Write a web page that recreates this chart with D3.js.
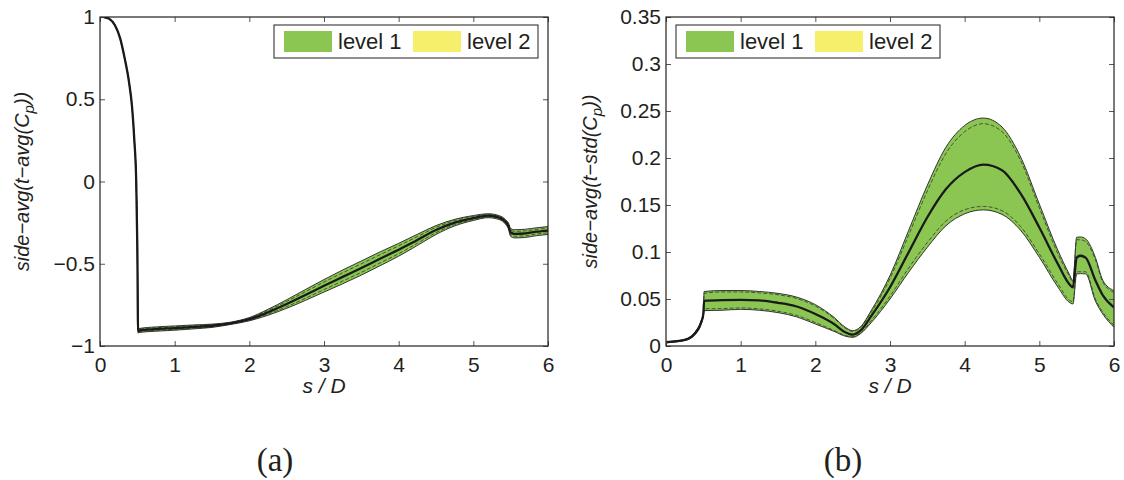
<html>
<head>
<meta charset="utf-8">
<style>
  body { margin: 0; background: #fff; }
  svg text { fill: #231f20; }
</style>
</head>
<body>
<script src="https://d3js.org/d3.v7.min.js"></script>
<svg id="chart" width="1124" height="480"></svg>
<script>
// ---- panel (a): side-avg(t-avg(Cp)) ----
var sA = [0.05,0.12,0.2,0.27,0.33,0.39,0.43,0.46,0.485,0.5,0.51,0.52,0.75,1,1.25,1.5,1.75,2,2.25,2.5,2.75,3,3.25,3.5,3.75,4,4.25,4.5,4.75,5,5.2,5.35,5.43,5.47,5.5,5.55,5.7,5.85,6];
var meanA = [1,0.99,0.95,0.87,0.75,0.6,0.45,0.25,0,-0.4,-0.91,-0.906,-0.897,-0.891,-0.884,-0.877,-0.862,-0.837,-0.795,-0.745,-0.69,-0.634,-0.58,-0.526,-0.47,-0.415,-0.355,-0.295,-0.25,-0.222,-0.208,-0.22,-0.245,-0.27,-0.31,-0.318,-0.315,-0.305,-0.298];
var upA = [1.002,0.993,0.953,0.873,0.754,0.604,0.454,0.254,0.004,-0.396,-0.898,-0.894,-0.884,-0.878,-0.872,-0.867,-0.855,-0.827,-0.777,-0.719,-0.657,-0.596,-0.538,-0.483,-0.428,-0.376,-0.321,-0.268,-0.23,-0.207,-0.196,-0.208,-0.231,-0.252,-0.286,-0.293,-0.29,-0.281,-0.274];
var loA = [0.997,0.987,0.947,0.867,0.746,0.596,0.446,0.246,-0.004,-0.404,-0.922,-0.918,-0.91,-0.904,-0.896,-0.887,-0.869,-0.847,-0.813,-0.771,-0.723,-0.672,-0.622,-0.569,-0.512,-0.454,-0.389,-0.322,-0.27,-0.237,-0.22,-0.232,-0.259,-0.288,-0.334,-0.343,-0.34,-0.329,-0.322];
var upInA = [1.001,0.992,0.952,0.872,0.752,0.602,0.452,0.252,0.002,-0.398,-0.903,-0.899,-0.889,-0.883,-0.877,-0.871,-0.858,-0.831,-0.784,-0.729,-0.67,-0.611,-0.555,-0.5,-0.445,-0.391,-0.335,-0.279,-0.238,-0.213,-0.201,-0.213,-0.237,-0.259,-0.296,-0.303,-0.3,-0.291,-0.284];
var loInA = [0.998,0.988,0.948,0.868,0.748,0.598,0.448,0.248,-0.002,-0.402,-0.917,-0.913,-0.905,-0.899,-0.891,-0.883,-0.866,-0.843,-0.806,-0.761,-0.71,-0.657,-0.605,-0.552,-0.495,-0.439,-0.375,-0.311,-0.262,-0.231,-0.215,-0.227,-0.253,-0.281,-0.324,-0.333,-0.33,-0.319,-0.312];
var yTicksA = [-1,-0.5,0,0.5,1];

// ---- panel (b): side-avg(t-std(Cp)) ----
var sB = [0,0.25,0.4,0.47,0.5,0.51,0.75,1,1.25,1.5,1.75,2,2.25,2.4,2.5,2.6,2.75,3,3.25,3.5,3.75,4,4.25,4.5,4.75,5,5.25,5.4,5.45,5.5,5.55,5.62,5.75,5.85,6];
var meanB = [0.004,0.0064,0.0146,0.025,0.034,0.048,0.0488,0.049,0.0485,0.046,0.042,0.034,0.0234,0.0146,0.012,0.016,0.032,0.0625,0.0998,0.137,0.167,0.185,0.193,0.187,0.162,0.126,0.087,0.066,0.0625,0.094,0.096,0.094,0.07,0.054,0.041];
var upB = [0.0045,0.007,0.016,0.027,0.036,0.058,0.059,0.059,0.058,0.056,0.052,0.044,0.0305,0.02,0.0163,0.02,0.038,0.075,0.123,0.171,0.2116,0.2346,0.2425,0.233,0.201,0.151,0.1015,0.0767,0.0696,0.1157,0.116,0.114,0.0944,0.07,0.059];
var loB = [0.0035,0.0058,0.013,0.023,0.032,0.0376,0.038,0.039,0.038,0.0355,0.031,0.0234,0.0156,0.0105,0.0092,0.0128,0.025,0.05,0.0785,0.105,0.128,0.1406,0.1448,0.14,0.123,0.0944,0.0625,0.0465,0.0447,0.0767,0.077,0.0767,0.048,0.034,0.02];
var upInB = [0.0043,0.0068,0.0155,0.026,0.035,0.056,0.0575,0.0575,0.0565,0.0545,0.0505,0.0425,0.0295,0.019,0.0155,0.0192,0.036,0.072,0.118,0.165,0.205,0.228,0.2365,0.228,0.197,0.147,0.098,0.0745,0.068,0.113,0.113,0.111,0.092,0.068,0.057];
var loInB = [0.0037,0.006,0.0136,0.024,0.033,0.0395,0.0398,0.0405,0.0395,0.037,0.0325,0.025,0.0165,0.0112,0.0098,0.0135,0.027,0.053,0.083,0.11,0.133,0.145,0.1485,0.144,0.127,0.098,0.066,0.049,0.047,0.079,0.079,0.079,0.05,0.036,0.022];
var yTicksB = [0,0.05,0.1,0.15,0.2,0.25,0.3,0.35];

var xTicks = [0,1,2,3,4,5,6];
var legendNames = ["level 1", "level 2"];
var legendColors = ["#8bc653", "#f5ef6b"];

var svg = d3.select("#chart");
var fontTxt = "'Liberation Sans', Arial, sans-serif";

function panel(opt) {
  var left = opt.left, top = 17, w = 448, h = 329;
  var g = svg.append("g").attr("transform", "translate(" + left + "," + top + ")");

  var x = d3.scaleLinear().domain([0, 6]).range([0, w]);
  var y = d3.scaleLinear().domain(opt.yDomain).range([h, 0]);

  g.append("clipPath").attr("id", "clip" + opt.id)
    .append("rect").attr("width", w).attr("height", h);

  var pts = opt.s.map(function(s, i) {
    return { s: s, m: opt.mean[i], up: opt.up[i], lo: opt.lo[i], ui: opt.upIn[i], li: opt.loIn[i] };
  });

  var plot = g.append("g").attr("clip-path", "url(#clip" + opt.id + ")");

  var area = d3.area().curve(d3.curveMonotoneX)
    .x(function(d) { return x(d.s); })
    .y0(function(d) { return y(d.lo); })
    .y1(function(d) { return y(d.up); });

  plot.append("path").datum(pts).attr("d", area)
    .attr("fill", legendColors[0]).attr("stroke", "none");

  function line(key) {
    return d3.line().curve(d3.curveMonotoneX)
      .x(function(d) { return x(d.s); })
      .y(function(d) { return y(d[key]); });
  }

  ["up", "lo"].forEach(function(k) {
    plot.append("path").datum(pts).attr("d", line(k))
      .attr("fill", "none").attr("stroke", "#222").attr("stroke-width", 0.9);
  });
  ["ui", "li"].forEach(function(k) {
    plot.append("path").datum(pts).attr("d", line(k))
      .attr("fill", "none").attr("stroke", "#333").attr("stroke-width", 0.8)
      .attr("stroke-dasharray", "4,2");
  });
  plot.append("path").datum(pts).attr("d", line("m"))
    .attr("fill", "none").attr("stroke", "#1a1a1a").attr("stroke-width", 2.3);

  // axes, ticks inside like matlab
  var fmt = d3.format("~g");
  var ax = [
    g.append("g").attr("transform", "translate(0," + h + ")")
      .call(d3.axisBottom(x).tickValues(xTicks).tickSizeInner(-5).tickSizeOuter(0).tickPadding(11).tickFormat(fmt)),
    g.append("g")
      .call(d3.axisTop(x).tickValues(xTicks).tickSizeInner(-5).tickSizeOuter(0).tickFormat("")),
    g.append("g")
      .call(d3.axisLeft(y).tickValues(opt.yTicks).tickSizeInner(-5).tickSizeOuter(0).tickPadding(5).tickFormat(fmt)),
    g.append("g").attr("transform", "translate(" + w + ",0)")
      .call(d3.axisRight(y).tickValues(opt.yTicks).tickSizeInner(-5).tickSizeOuter(0).tickFormat(""))
  ];
  ax.forEach(function(a) {
    a.select(".domain").remove();
    a.selectAll("line").attr("stroke", "#555");
    a.selectAll("text").style("font-family", fontTxt).style("font-size", "21px").attr("fill", "#231f20");
  });

  g.append("rect").attr("width", w).attr("height", h)
    .attr("fill", "none").attr("stroke", "#231f20").attr("stroke-width", 1.2);

  // axis labels
  g.append("text").attr("x", w / 2).attr("y", h + 47)
    .attr("text-anchor", "middle").style("font-family", fontTxt).style("font-size", "21px")
    .style("font-style", "italic").text("s / D");

  var yl = g.append("text").attr("transform", "translate(" + opt.yLabelX + "," + (h / 2) + ") rotate(-90)")
    .attr("text-anchor", "middle").style("font-family", fontTxt).style("font-size", "20px")
    .style("font-style", "italic");
  yl.append("tspan").text(opt.yLabel[0]);
  yl.append("tspan").attr("font-size", "15px").attr("baseline-shift", "-30%").text("p");
  yl.append("tspan").text("))");

  // legend
  var lg = g.append("g").attr("transform", "translate(" + opt.legendX + ",8)");
  lg.append("rect").attr("width", 264).attr("height", 33)
    .attr("fill", "#fff").attr("stroke", "#231f20").attr("stroke-width", 1);
  legendNames.forEach(function(name, i) {
    var it = lg.append("g").attr("transform", "translate(" + (10 + i * 129) + ",0)");
    it.append("rect").attr("y", 6).attr("width", 48).attr("height", 21).attr("fill", legendColors[i]);
    it.append("text").attr("x", 54).attr("y", 24).style("font-family", fontTxt).style("font-size", "22px").text(name);
  });

  // sub-caption
  svg.append("text").attr("x", opt.capX).attr("y", 471).attr("text-anchor", "middle")
    .style("font-family", "'Liberation Serif', 'DejaVu Serif', serif").style("font-size", "33px")
    .text(opt.caption);
}

panel({ id: "a", left: 100, s: sA, mean: meanA, up: upA, lo: loA, upIn: upInA, loIn: loInA,
  yDomain: [-1, 1], yTicks: yTicksA, yLabel: ["side\u2212avg(t\u2212avg(C"], yLabelX: -71,
  legendX: 174, capX: 275, caption: "(a)" });
panel({ id: "b", left: 666, s: sB, mean: meanB, up: upB, lo: loB, upIn: upInB, loIn: loInB,
  yDomain: [0, 0.35], yTicks: yTicksB, yLabel: ["side\u2212avg(t\u2212std(C"], yLabelX: -69,
  legendX: 10, capX: 843, caption: "(b)" });
</script>
</body>
</html>
